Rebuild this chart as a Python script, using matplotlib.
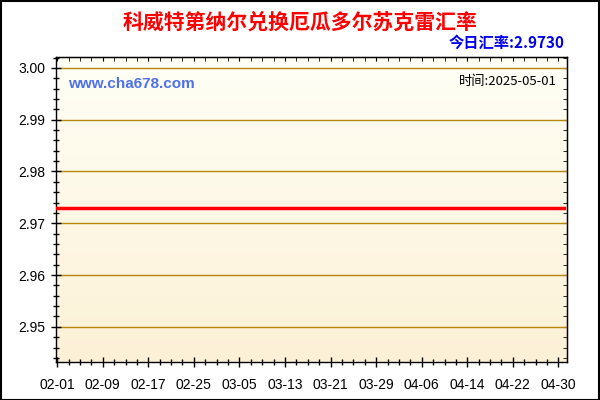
import numpy as np
import matplotlib.pyplot as plt
import matplotlib.ticker as ticker
import datetime as dt

plt.rcParams['font.family'] = ['Liberation Sans', 'Noto Sans CJK SC', 'DejaVu Sans']

title = "科威特第纳尔兑换厄瓜多尔苏克雷汇率"
today_rate = "今日汇率:2.9730"
site = "www.cha678.com"
stamp = "时间:2025-05-01"

start = dt.date(2025, 2, 1)
days = list(range(0, 90))          # 02-01 .. 05-01
rates = [2.973] * len(days)         # rate stayed flat the whole period
yticks = [2.95, 2.96, 2.97, 2.98, 2.99, 3.00]
xticks = list(range(0, 89, 8))
xlabels = [(start + dt.timedelta(days=d)).strftime("%m-%d") for d in xticks]

fig = plt.figure(figsize=(6, 4), dpi=100)
fig.patch.set_facecolor("white")
ax = fig.add_axes([56/600, 1 - 362/400, (567-56)/600, (362-57)/400])

# pale yellow gradient background
grad = np.linspace(0, 1, 256).reshape(-1, 1)
top = np.array([1.0, 1.0, 0.965])
bot = np.array([0.99, 0.945, 0.84])
img = top + (bot - top) * grad[:, :, None]
ax.imshow(img, aspect="auto", extent=[-0.2, 89.5, 2.9432, 3.0021], origin="upper", zorder=0)

for y in yticks:
    ax.axhline(y, color="#B8860B", lw=1, zorder=1)
ax.plot(days, rates, color="red", lw=2.5, zorder=3)

ax.set_xlim(-0.2, 89.5)
ax.set_ylim(2.9432, 3.0021)
ax.set_yticks(yticks)
ax.set_yticklabels(["%.2f" % v for v in yticks])
ax.yaxis.set_minor_locator(ticker.MultipleLocator(0.002))
ax.set_xticks(xticks)
ax.set_xticklabels(xlabels)
ax.xaxis.set_minor_locator(ticker.MultipleLocator(2))
ax.tick_params(axis="both", which="major", direction="inout", length=7, width=1, labelsize=10, colors="black")
ax.tick_params(axis="both", which="minor", direction="inout", length=4, width=1)
ax.tick_params(axis="x", which="major", pad=8)
ax.tick_params(axis="y", which="major", pad=4)
for s in ax.spines.values():
    s.set_linewidth(1)
    s.set_color("black")

# top / right: inward ticks only, no labels
sx = ax.secondary_xaxis("top")
sx.set_xticks(xticks)
sx.xaxis.set_minor_locator(ticker.MultipleLocator(2))
sx.tick_params(which="both", direction="in", length=3, labeltop=False)
sy = ax.secondary_yaxis("right")
sy.set_yticks(yticks)
sy.yaxis.set_minor_locator(ticker.MultipleLocator(0.002))
sy.tick_params(which="both", direction="in", length=3, labelright=False)

fig.text(0.5, 1 - 22/400, title, color="red", fontsize=15, fontweight="bold",
         ha="center", va="center", family=["Noto Sans CJK SC", "DejaVu Sans"])
fig.text(564/600, 1 - 43/400, today_rate, color="#0000EE", fontsize=11, fontweight="bold",
         ha="right", va="center", family=["Noto Sans CJK SC", "DejaVu Sans"])
fig.text(68/600, 1 - 84/400, site, color="#4D6FF0", fontsize=11, fontweight="bold",
         ha="left", va="center")
fig.text(557/600, 1 - 82/400, stamp, color="black", fontsize=9.5,
         ha="right", va="center", family=["Noto Sans CJK SC", "DejaVu Sans"])

fig.add_artist(plt.Rectangle((0.001, 0.001), 0.997, 0.997, transform=fig.transFigure,
                             fill=False, edgecolor="black", lw=1.5))

fig.savefig("out.png", dpi=100)
